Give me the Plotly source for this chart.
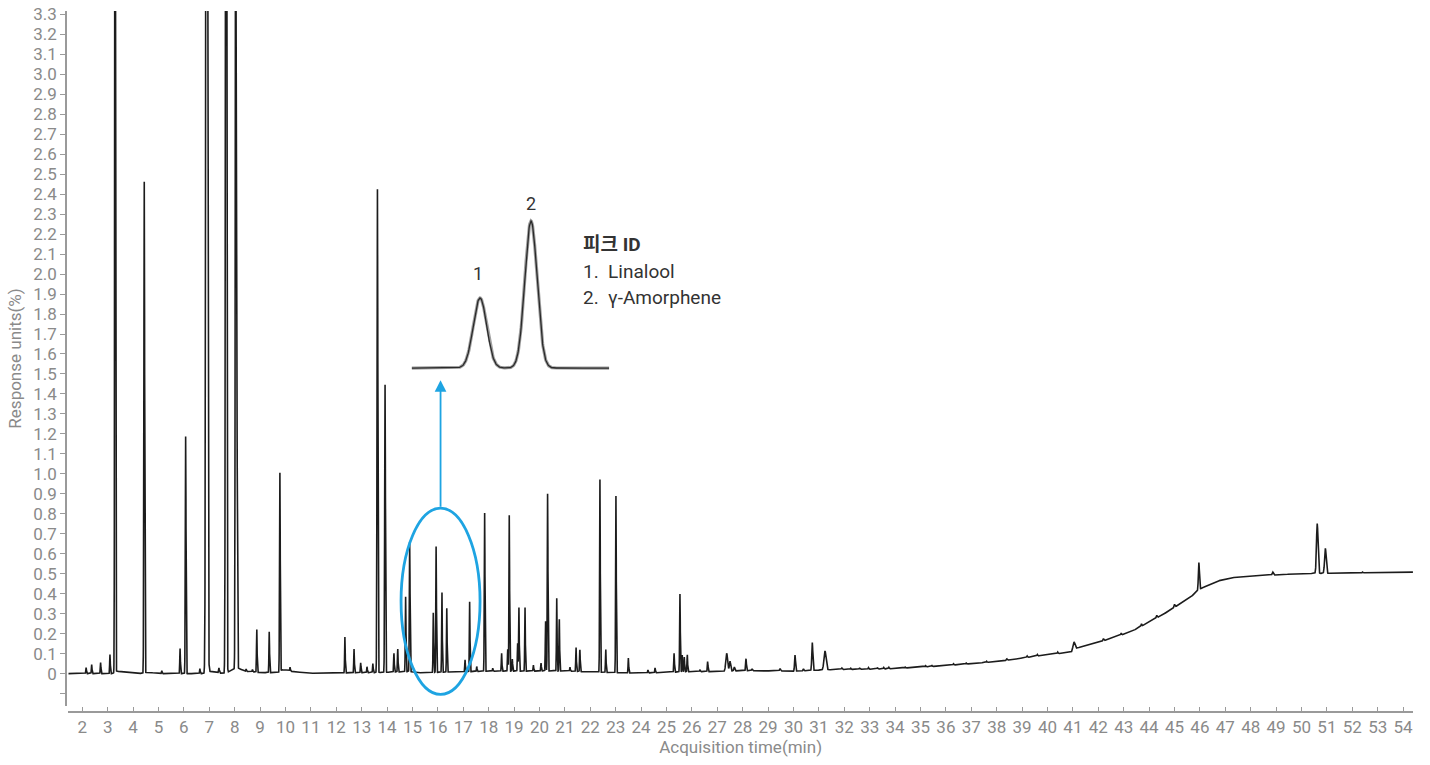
import numpy as np
import plotly.graph_objects as go

# ---------------- data ----------------
peak_times = [2.15, 2.37, 2.72, 3.09, 3.29, 4.44, 5.13, 5.85, 6.07, 6.63,
              6.90, 7.38, 7.66, 8.04, 8.09, 8.45, 8.70, 8.87, 9.36, 9.78,
              10.18, 12.34, 12.70, 12.96, 13.21, 13.44, 13.62, 13.92, 14.27, 14.42,
              14.73, 14.89, 15.82, 15.93, 16.16, 16.35, 17.07, 17.25, 17.53, 17.84,
              18.16, 18.51, 18.75, 18.81, 18.93, 19.14, 19.19, 19.43, 19.76, 20.06,
              20.24, 20.32, 20.68, 20.78, 21.20, 21.44, 21.59, 22.38, 22.61, 23.01,
              23.50, 24.27, 24.55, 25.30, 25.53, 25.62, 25.70, 25.82, 26.32, 26.62,
              27.37, 27.50, 27.67, 28.13, 28.37, 29.47, 30.06, 30.39, 30.74, 31.24,
              31.90, 32.60, 33.30, 41.04, 42.20, 44.30, 45.00, 45.96, 48.87, 50.62,
              50.94,
              32.25, 32.95, 33.55, 33.75, 34.40, 35.20, 35.45, 36.30, 36.80, 37.60,
              38.40, 39.20, 39.60, 40.40, 42.90, 43.70, 52.40]
peak_heights = [0.03, 0.045, 0.055, 0.095, 6.0, 2.46, 0.015, 0.125, 1.19, 0.025,
                12.0, 0.025, 7.0, 5.0, 1.25, 0.012, 0.012, 0.215, 0.205, 1.0,
                0.02, 0.18, 0.12, 0.05, 0.03, 0.045, 2.42, 1.44, 0.095, 0.115,
                0.375, 0.65, 0.30, 0.63, 0.40, 0.32, 0.06, 0.35, 0.025, 0.795,
                0.015, 0.09, 0.11, 0.78, 0.06, 0.14, 0.32, 0.32, 0.03, 0.04,
                0.25, 0.89, 0.365, 0.26, 0.02, 0.12, 0.11, 0.965, 0.115, 0.885,
                0.075, 0.015, 0.025, 0.095, 0.39, 0.085, 0.075, 0.085, 0.01, 0.05,
                0.09, 0.05, 0.02, 0.06, 0.01, 0.012, 0.08, 0.01, 0.14, 0.095,
                0.008, 0.006, 0.006, 0.045, 0.012, 0.012, 0.015, 0.135, 0.015, 0.25,
                0.125,
                0.006, 0.008, 0.007, 0.008, 0.005, 0.006, 0.005, 0.006, 0.005, 0.006,
                0.007, 0.007, 0.008, 0.008, 0.01, 0.012, 0.004]
peak_sigmas = [0.012, 0.012, 0.012, 0.012, 0.014, 0.015, 0.012, 0.012, 0.014, 0.012,
               0.027, 0.015, 0.020, 0.016, 0.015, 0.012, 0.012, 0.012, 0.012, 0.014,
               0.012, 0.012, 0.012, 0.012, 0.012, 0.012, 0.016, 0.015, 0.012, 0.012,
               0.013, 0.014, 0.012, 0.013, 0.012, 0.012, 0.012, 0.012, 0.012, 0.013,
               0.012, 0.012, 0.012, 0.013, 0.012, 0.012, 0.012, 0.012, 0.012, 0.012,
               0.012, 0.013, 0.012, 0.012, 0.012, 0.012, 0.012, 0.013, 0.012, 0.013,
               0.012, 0.012, 0.012, 0.013, 0.013, 0.012, 0.012, 0.012, 0.012, 0.013,
               0.035, 0.025, 0.020, 0.015, 0.015, 0.020, 0.018, 0.015, 0.020, 0.040,
               0.020, 0.020, 0.020, 0.040, 0.020, 0.020, 0.020, 0.020, 0.025, 0.030,
               0.030,
               0.015, 0.015, 0.015, 0.015, 0.015, 0.015, 0.015, 0.015, 0.015, 0.015,
               0.015, 0.015, 0.015, 0.015, 0.015, 0.015, 0.015]

baseline_times = [1.45, 3.20, 3.35, 4.00, 4.40, 4.55, 5.00, 6.80, 7.00, 7.30,
                  7.60, 8.10, 8.40, 9.00, 9.80, 9.85, 10.30, 11.00, 13.60, 14.90,
                  15.30, 16.50, 18.00, 21.00, 22.00, 23.50, 24.50, 26.00, 27.00, 28.00,
                  30.00, 31.50, 33.00, 34.00, 36.00, 38.00, 40.00, 41.00, 41.15, 42.00,
                  43.30, 44.60, 45.10, 45.70, 45.95, 46.60, 47.20, 48.50, 49.80, 54.40]
baseline_values = [0.0, 0.0, 0.012, 0.004, 0.0, 0.008, 0.0, 0.0, 0.012, 0.005,
                   0.0, 0.03, 0.012, 0.005, 0.005, 0.02, 0.01, 0.002, 0.005, 0.01,
                   0.004, 0.008, 0.012, 0.013, 0.008, 0.003, 0.004, 0.01, 0.01, 0.015,
                   0.012, 0.02, 0.022, 0.025, 0.04, 0.06, 0.095, 0.108, 0.128, 0.155,
                   0.21, 0.30, 0.34, 0.39, 0.42, 0.46, 0.48, 0.49, 0.50, 0.508]

x_tick_values = list(range(2, 55))
y_tick_values = [round(-0.1 + 0.1 * i, 1) for i in range(35)]
y_tick_labels = ["" if v < 0 else ("0" if v == 0 else f"{v:.1f}") for v in y_tick_values]

inset_positions = [0.346, 0.604]
inset_heights = [0.476, 1.0]
inset_sigmas = [0.034, 0.031]
inset_labels = ["1", "2"]
peak_id_lines = ["<b>피크 ID</b>", "1.\u00a0 Linalool", "2.\u00a0 γ-Amorphene"]

x_title = "Acquisition time(min)"
y_title = "Response units(%)"

# highlighted region (ellipse) and arrow
ellipse_x = [14.55, 17.66]
ellipse_y = [-0.104, 0.828]
arrow_tip_y = 1.469

# ---------------- build the traces ----------------
t = np.arange(1.449, 54.39, 0.003)
signal = np.interp(t, baseline_times, baseline_values)
for tc, h, s in zip(peak_times, peak_heights, peak_sigmas):
    signal = signal + h * np.exp(-0.5 * ((t - tc) / s) ** 2)

xi = np.linspace(0, 1, 600)
inset = np.zeros_like(xi)
for c, h, s in zip(inset_positions, inset_heights, inset_sigmas):
    inset = inset + h * np.exp(-0.5 * ((xi - c) / s) ** 2)

GRAY = "#8a8a8a"
BLUE = "#1ea4e2"
FONT = "Roboto, Noto Sans CJK KR, sans-serif"

fig = go.Figure()
fig.add_trace(go.Scatter(x=t, y=signal, mode="lines",
                         line=dict(color="#1c1c1c", width=1.6),
                         hoverinfo="skip", showlegend=False))
fig.add_trace(go.Scatter(x=xi, y=inset, mode="lines", xaxis="x2", yaxis="y2",
                         line=dict(color="#a0a0a0", width=3.2),
                         hoverinfo="skip", showlegend=False))
fig.add_trace(go.Scatter(x=xi, y=inset, mode="lines", xaxis="x2", yaxis="y2",
                         line=dict(color="#2a2a2a", width=1.3),
                         hoverinfo="skip", showlegend=False))

# paper positions of the inset labels (x from left, y from bottom)
inset_label_paper = [(0.3059, 0.6262), (0.3452, 0.7261)]

annotations = []
for (px, py), lab in zip(inset_label_paper, inset_labels):
    annotations.append(dict(x=px, y=py, xref="paper", yref="paper", text=lab,
                            showarrow=False, xanchor="center", yanchor="middle",
                            font=dict(size=18, color="#333333", family=FONT)))
for i, line in enumerate(peak_id_lines):
    annotations.append(dict(x=0.3823, y=0.6676 - i * 0.0385, xref="paper", yref="paper",
                            text=line, xanchor="left", yanchor="middle", showarrow=False,
                            font=dict(size=19, color="#333333", family=FONT)))
cx = (ellipse_x[0] + ellipse_x[1]) / 2
annotations.append(dict(x=cx, y=arrow_tip_y, ax=cx, ay=ellipse_y[1], xref="x", yref="y",
                        axref="x", ayref="y", text="", showarrow=True, arrowhead=2,
                        arrowsize=1.3, arrowwidth=1.8, arrowcolor=BLUE))

fig.update_layout(
    width=1430, height=765,
    margin=dict(l=66, r=17, t=11, b=53),
    paper_bgcolor="white", plot_bgcolor="white",
    font=dict(family=FONT, color=GRAY, size=17),
    xaxis=dict(range=[1.449, 54.39], domain=[0.0017, 1], anchor="free", position=0,
               automargin=False,
               tickmode="array", tickvals=x_tick_values, ticks="inside", ticklen=4,
               tickcolor="#9a9a9a", showline=True, linecolor="#9a9a9a", linewidth=1.5,
               showgrid=False, zeroline=False,
               tickfont=dict(size=17, color=GRAY, family=FONT),
               title=dict(text=x_title, font=dict(size=17, color=GRAY, family=FONT), standoff=4)),
    yaxis=dict(range=[-0.162, 3.317], domain=[0.0086, 1], anchor="free", position=0,
               automargin=False,
               tickmode="array", tickvals=y_tick_values, ticktext=y_tick_labels,
               ticks="outside", ticklen=5, tickcolor="#9a9a9a",
               showline=True, linecolor="#9a9a9a", linewidth=1.5,
               showgrid=False, zeroline=False,
               tickfont=dict(size=17, color=GRAY, family=FONT),
               title=dict(text=y_title, font=dict(size=17, color=GRAY, family=FONT), standoff=6)),
    xaxis2=dict(domain=[0.2566, 0.4033], range=[0, 1], anchor="y2", visible=False),
    yaxis2=dict(domain=[0.4802, 0.7109], range=[-0.05, 1.05], anchor="x2", visible=False),
    shapes=[dict(type="circle", xref="x", yref="y", x0=ellipse_x[0], x1=ellipse_x[1],
                 y0=ellipse_y[0], y1=ellipse_y[1], line=dict(color=BLUE, width=2.8))],
    annotations=annotations,
)

fig.write_html("out.html", config={"displayModeBar": False},
               post_script="document.body.style.margin='0';")
